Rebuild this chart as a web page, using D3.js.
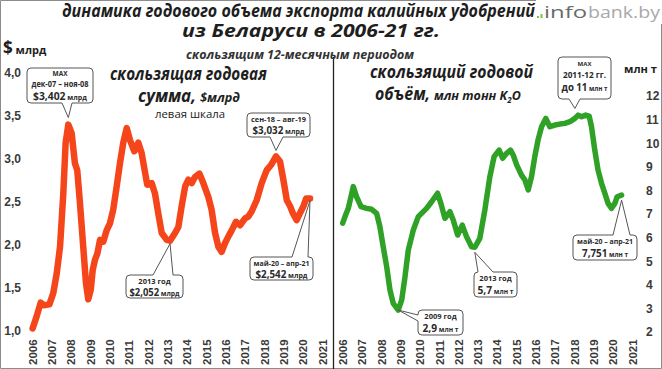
<!DOCTYPE html>
<html><head><meta charset="utf-8">
<script src="https://cdn.jsdelivr.net/npm/d3@7"></script>
<style>
body{margin:0;background:#fff;}
svg{display:block;}
</style></head>
<body>
<svg id="c" width="662" height="369"></svg>
<script>
// ---------- DATA ----------
const yearTicks = [2006,2007,2008,2009,2010,2011,2012,2013,2014,2015,2016,2017,2018,2019,2020,2021];
const leftTicks = [1.0,1.5,2.0,2.5,3.0,3.5,4.0];
const rightTicks = [2,3,4,5,6,7,8,9,10,11,12];

// rolling 12-month export value, $ bn
const valueTime = [2006.03,2006.24,2006.45,2006.6,2006.9,2007.1,2007.28,2007.45,2007.62,2007.74,2007.88,2008.05,2008.22,2008.34,2008.48,2008.65,2008.79,2008.91,2009.04,2009.14,2009.26,2009.38,2009.52,2009.69,2009.86,2010.03,2010.2,2010.38,2010.55,2010.72,2010.9,2011.07,2011.29,2011.5,2011.67,2011.85,2011.96,2012.19,2012.36,2012.53,2012.71,2012.97,2013.14,2013.4,2013.57,2013.74,2013.92,2014.09,2014.26,2014.43,2014.66,2014.86,2015.12,2015.29,2015.47,2015.64,2015.81,2015.98,2016.16,2016.33,2016.55,2016.76,2017.02,2017.19,2017.36,2017.62,2017.88,2018.14,2018.36,2018.62,2018.83,2019.0,2019.18,2019.35,2019.49,2019.69,2019.86,2020.04,2020.18,2020.38];
const valueBn = [1.03,1.17,1.33,1.30,1.31,1.44,1.67,1.98,2.60,3.19,3.40,3.30,2.95,2.87,2.49,1.98,1.56,1.37,1.48,1.71,1.83,1.90,2.06,2.04,2.17,2.25,2.41,2.68,2.95,3.19,3.36,3.22,3.09,3.19,3.07,2.84,2.70,2.72,2.60,2.37,2.14,2.06,2.05,2.14,2.21,2.45,2.68,2.76,2.72,2.79,2.83,2.72,2.56,2.41,2.14,1.98,1.92,2.02,2.10,2.17,2.27,2.23,2.31,2.33,2.39,2.52,2.72,2.87,2.93,3.03,2.97,2.76,2.52,2.45,2.37,2.29,2.37,2.45,2.54,2.54];

// rolling 12-month export volume, mln t K2O
const volumeTime = [2006.0,2006.12,2006.29,2006.55,2006.72,2006.95,2007.24,2007.5,2007.76,2007.93,2008.1,2008.28,2008.45,2008.62,2008.88,2009.06,2009.23,2009.4,2009.66,2009.92,2010.18,2010.35,2010.61,2010.92,2011.09,2011.3,2011.56,2011.73,2011.96,2012.2,2012.42,2012.68,2012.85,2013.11,2013.37,2013.63,2013.85,2013.98,2014.11,2014.29,2014.5,2014.7,2014.84,2015.02,2015.27,2015.45,2015.62,2015.79,2015.96,2016.13,2016.31,2016.53,2016.74,2017.0,2017.26,2017.52,2017.78,2018.04,2018.21,2018.39,2018.6,2018.78,2018.9,2019.07,2019.24,2019.42,2019.59,2019.76,2019.94,2020.11,2020.23,2020.46];
const volumeMt = [6.61,6.89,7.24,8.16,7.73,7.31,7.24,7.20,7.03,6.46,5.61,4.77,3.78,3.21,2.93,3.36,4.34,5.47,6.32,6.89,7.10,7.24,7.52,7.88,7.45,6.82,7.10,6.75,6.11,6.53,6.04,5.61,5.59,5.97,7.17,8.58,9.43,9.57,9.71,9.36,9.57,9.71,9.50,9.08,8.65,8.44,8.02,8.58,9.43,10.14,10.70,11.05,10.70,10.77,10.81,10.84,10.91,11.05,11.19,11.12,11.19,11.15,10.70,9.71,8.86,8.30,7.88,7.45,7.24,7.45,7.73,7.80];

// ---------- SETUP ----------
const svg = d3.select('#c');
const FONT = "'Open Sans', 'Noto Sans', sans-serif";
const TICKFONT = "'Liberation Sans', Arial, sans-serif";
const ORANGE = '#f5451a', GREEN = '#2ea126';

const xL = d3.scaleLinear().domain([2006,2021]).range([32,322]);
const yL = d3.scaleLinear().domain([1,4]).range([331,73]);
const xR = d3.scaleLinear().domain([2006,2021]).range([342.7,632]);
const yR = d3.scaleLinear().domain([2,12]).range([332,96]);

// frame + divider
svg.append('path').attr('d','M536,0.5H0.5V368.5H661.5V24')
  .attr('fill','none').attr('stroke','#8c8c8c').attr('stroke-width',1);
svg.append('line').attr('x1',333.5).attr('x2',333.5).attr('y1',57).attr('y2',369)
  .attr('stroke','#222').attr('stroke-width',1.3);

// ---------- TITLES ----------
function txt(x,y,s,o){
  const t = svg.append('text').attr('x',x).attr('y',y).text(s)
    .attr('font-family',o.family||FONT).attr('font-size',o.size)
    .attr('font-weight',o.weight||'bold').attr('font-style',o.style||'normal')
    .attr('fill',o.fill||'#1e1e1e').attr('text-anchor',o.anchor||'start');
  if(o.len){t.attr('textLength',o.len).attr('lengthAdjust','spacingAndGlyphs');}
  return t;
}
txt(62,17,'динамика годового объема экспорта калийных удобрений',{size:17,style:'italic',len:473});
txt(182,37,'из Беларуси в 2006-21 гг.',{size:17,style:'italic',len:258});
txt(186,59,'скользящим 12-месячным периодом',{size:11.5,style:'italic',len:228,fill:'#333'});

// logo
svg.append('rect').attr('x',537).attr('y',16).attr('width',2).attr('height',2).attr('fill','#7cc243');
svg.append('rect').attr('x',540.5).attr('y',14).attr('width',2).attr('height',4).attr('fill','#7cc243');
txt(544,18,'info',{size:16.5,weight:'normal',fill:'#6a6a6a',len:43});
txt(588,18,'bank.by',{size:16.5,weight:'normal',fill:'#a8a8a8',len:72});

// axis headers
const h1 = svg.append('text').attr('x',3).attr('y',54).attr('font-family',FONT).attr('font-weight','bold').attr('fill','#1e1e1e');
h1.append('tspan').text('$').attr('font-size',17);
h1.append('tspan').text(' млрд').attr('font-size',11);
txt(624,73,'млн т',{size:11,fill:'#1e1e1e',len:33});

// chart labels
txt(110,80,'скользящая годовая',{size:18,style:'italic',len:157});
txt(138,102,'сумма,',{size:18,style:'italic',len:58});
txt(200,102,'$млрд',{size:12.5,style:'italic',len:40});
txt(155,118,'левая  шкала',{size:11,weight:'normal',len:70,fill:'#222'});

txt(370,78,'скользящий годовой',{size:18,style:'italic',len:163});
txt(375,100,'объём,',{size:18,style:'italic',len:55});
const k2o = svg.append('text').attr('x',434).attr('y',100).attr('font-family',FONT)
  .attr('font-size',12.5).attr('font-weight','bold').attr('font-style','italic').attr('fill','#1e1e1e');
k2o.append('tspan').text('млн тонн K');
k2o.append('tspan').text('2').attr('font-size',8).attr('dy',3);
k2o.append('tspan').text('O').attr('dy',-3);

// ---------- AXES ----------
const comma = d => d3.format('.1f')(d).replace('.',',');
const gyl = svg.append('g').attr('transform','translate(21,0)')
  .call(d3.axisLeft(yL).tickValues(leftTicks).tickFormat(comma).tickSize(0).tickPadding(0));
const gyr = svg.append('g').attr('transform','translate(646,0)')
  .call(d3.axisRight(yR).tickValues(rightTicks).tickFormat(d3.format('d')).tickSize(0).tickPadding(0));
const gxl = svg.append('g').attr('transform','translate(0,365)')
  .call(d3.axisBottom(xL).tickValues(yearTicks).tickFormat(d3.format('d')).tickSize(0));
const gxr = svg.append('g').attr('transform','translate(0,365)')
  .call(d3.axisBottom(xR).tickValues(yearTicks).tickFormat(d3.format('d')).tickSize(0));
[gyl,gyr,gxl,gxr].forEach(g=>{
  g.select('.domain').remove();
  g.selectAll('text').attr('font-family',TICKFONT).attr('font-weight','bold')
   .attr('font-size',12).attr('fill','#3a3a3a');
});
[gxl,gxr].forEach(g=>{
  g.selectAll('text').attr('font-size',11.5).attr('transform','rotate(-90)')
   .attr('x',0).attr('y',0).attr('dy',null).attr('text-anchor','start')
   .attr('dominant-baseline','central');
});

// ---------- LINES ----------
const leftLine = d3.line().x((d,i)=>xL(valueTime[i])).y(d=>yL(d));
const rightLine = d3.line().x((d,i)=>xR(volumeTime[i])).y(d=>yR(d));
svg.append('path').datum(valueBn).attr('d',leftLine).attr('fill','none')
  .attr('stroke',ORANGE).attr('stroke-width',6.5).attr('stroke-linejoin','round').attr('stroke-linecap','round');
svg.append('path').datum(volumeMt).attr('d',rightLine).attr('fill','none')
  .attr('stroke',GREEN).attr('stroke-width',5.5).attr('stroke-linejoin','round').attr('stroke-linecap','round');

// ---------- CALLOUTS ----------
function calloutPath(x,y,w,h,r,side,b1,b2,tx,ty){
  let p = `M${x+r},${y}`;
  if(side==='top') p += `H${b1}L${tx},${ty}L${b2},${y}`;
  p += `H${x+w-r}Q${x+w},${y} ${x+w},${y+r}V${y+h-r}Q${x+w},${y+h} ${x+w-r},${y+h}`;
  if(side==='bottom') p += `H${b2}L${tx},${ty}L${b1},${y+h}`;
  p += `H${x+r}Q${x},${y+h} ${x},${y+h-r}`;
  if(side==='left') p += `V${b2}L${tx},${ty}L${x},${b1}`;
  p += `V${y+r}Q${x},${y} ${x+r},${y}Z`;
  return p;
}
function callout(box, side, b1, b2, tip, lines){
  const [x,y,w,h] = box;
  svg.append('path').attr('d',calloutPath(x,y,w,h,4,side,b1,b2,tip[0],tip[1]))
    .attr('fill','#fff').attr('stroke','#555').attr('stroke-width',1);
  lines.forEach(l=>{
    const t = svg.append('text').attr('x',x+w/2).attr('y',l.y).attr('text-anchor','middle')
      .attr('font-family',FONT).attr('font-weight','bold').attr('fill','#2a2a2a');
    if(l.len) t.attr('textLength',l.len).attr('lengthAdjust','spacingAndGlyphs');
    l.parts.forEach(pt=>t.append('tspan').text(pt[0]).attr('font-size',pt[1]));
  });
}
const iL = (yr)=> valueTime.indexOf(yr);
const iR = (yr)=> volumeTime.indexOf(yr);
const tipL = (yr,dy)=>[xL(yr), yL(valueBn[iL(yr)])+dy];
const tipR = (yr,dy)=>[xR(yr), yR(volumeMt[iR(yr)])+dy];

callout([27,68,66,35],'bottom',62,72,tipL(2007.88,-7),[
  {y:76,parts:[['MAX',6.5]]},
  {y:87,parts:[['дек-07 – ноя-08',8]],len:57},
  {y:99.5,parts:[['$3,402',11],[' млрд',7.5]],len:54}]);
callout([126,275,57,23],'top',153,173,tipL(2013.14,3),[
  {y:283.5,parts:[['2013 год',7.5]]},
  {y:295.5,parts:[['$2,052',10.5],[' млрд',7.5]],len:50}]);
callout([247,113,63,24],'bottom',270,283,tipL(2018.62,-6),[
  {y:121.5,parts:[['сен-18 – авг-19',7.5]],len:55},
  {y:133.5,parts:[['$3,032',10.5],[' млрд',7.5]],len:52}]);
callout([250,257,63,23],'top',292,308,tipL(2020.38,2),[
  {y:265.5,parts:[['май-20 – апр-21',7.5]],len:56},
  {y:277.5,parts:[['$2,542',10.5],[' млрд',7.5]],len:52}]);

callout([558,57,53,42],'bottom',569,580,tipR(2018.04,-10),[
  {y:66,parts:[['MAX',6]]},
  {y:78,parts:[['2011-12 гг.',8]],len:43},
  {y:91,parts:[['до 11',10],[' млн т',6.5]],len:46}]);
callout([418,310,45,25],'left',315,321,tipR(2008.88,0),[
  {y:319,parts:[['2009 год',7.5]]},
  {y:331.5,parts:[['2,9',10],[' млн т',6.5]],len:36}]);
callout([474,272,43,25],'top',478,493,tipR(2012.85,5),[
  {y:281,parts:[['2013 год',7.5]]},
  {y:293.5,parts:[['5,7',10],[' млн т',6.5]],len:36}]);
callout([573,235,64,25],'top',613,630,tipR(2020.46,5),[
  {y:244,parts:[['май-20 – апр-21',7.5]],len:56},
  {y:256.5,parts:[['7,751',10],[' млн т',6.5]],len:46}]);
</script>
</body></html>
